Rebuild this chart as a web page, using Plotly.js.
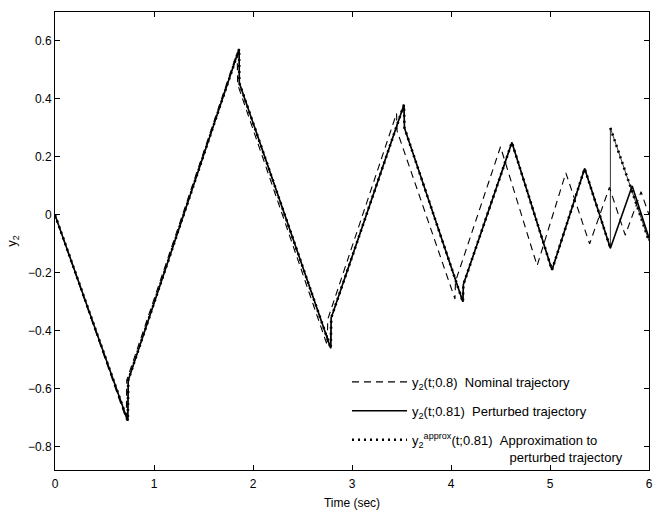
<!DOCTYPE html>
<html>
<head>
<meta charset="utf-8">
<script src="https://cdn.plot.ly/plotly-3.0.1.min.js"></script>
<style>html,body{margin:0;padding:0;background:#fff;}</style>
</head>
<body>
<div id="chart" style="width:653px;height:510px;"></div>
<script>
// Nominal trajectory y2(t;0.8)
const tNominal = [0, 0.72, 0.725, 1.84, 1.845, 2.75, 2.755, 3.45, 3.455, 4.04, 4.045, 4.50, 4.87, 5.16, 5.40, 5.60, 5.76, 5.92, 6.0];
const yNominal = [0, -0.705, -0.57, 0.56, 0.45, -0.45, -0.36, 0.35, 0.29, -0.29, -0.23, 0.235, -0.175, 0.145, -0.10, 0.095, -0.07, 0.08, 0.0];

// Perturbed trajectory y2(t;0.81)
const tPerturbed = [0, 0.735, 0.74, 1.86, 1.862, 2.785, 2.79, 3.525, 3.53, 4.12, 4.125, 4.615, 5.02, 5.35, 5.61, 5.83, 6.0];
const yPerturbed = [0, -0.71, -0.57, 0.572, 0.455, -0.46, -0.355, 0.38, 0.30, -0.30, -0.24, 0.25, -0.19, 0.16, -0.115, 0.10, -0.08];

// Approximation to perturbed trajectory
const tApprox = [0, 0.735, 0.74, 1.86, 1.862, 2.785, 2.79, 3.525, 3.53, 4.12, 4.125, 4.615, 5.02, 5.35, 5.61, 5.61, 6.0];
const yApprox = [0, -0.71, -0.57, 0.572, 0.455, -0.46, -0.355, 0.38, 0.30, -0.30, -0.24, 0.25, -0.19, 0.16, -0.115, 0.30, -0.09];

// Axis ticks
const xTickVals = [0, 1, 2, 3, 4, 5, 6];
const yTickVals = [-0.8, -0.6, -0.4, -0.2, 0, 0.2, 0.4, 0.6];
const yTickText = ['\u22120.8', '\u22120.6', '\u22120.4', '\u22120.2', '0', '0.2', '0.4', '0.6'];

// Legend labels
const NB = '\u00a0';
const labelNominal = 'y<sub>2</sub>(t;0.8)' + NB + NB + 'Nominal trajectory';
const labelPerturbed = 'y<sub>2</sub>(t;0.81)' + NB + NB + 'Perturbed trajectory';
const labelApprox = 'y<sub>2</sub><sup>approx</sup>(t;0.81)' + NB + NB + 'Approximation to<br>' + NB.repeat(27) + 'perturbed trajectory';

const FONT = 'Liberation Sans, Arial, Helvetica, sans-serif';

// dotted overlay breaks at the vertical jump (thin line only there)
const jumpIdx = 15;
const tApproxDots = tApprox.slice(0, jumpIdx).concat([null], tApprox.slice(jumpIdx));
const yApproxDots = yApprox.slice(0, jumpIdx).concat([null], yApprox.slice(jumpIdx));

const traces = [
  {x: tNominal, y: yNominal, mode: 'lines', name: labelNominal, legendgroup: 'g1',
   line: {color: '#000', width: 1.1, dash: '7px,5px'}},
  {x: tPerturbed, y: yPerturbed, mode: 'lines', name: labelPerturbed, legendgroup: 'g2',
   line: {color: '#000', width: 1.6}},
  {x: tApprox, y: yApprox, mode: 'lines', showlegend: false, hoverinfo: 'skip',
   line: {color: '#000', width: 0.8}},
  {x: tApproxDots, y: yApproxDots, mode: 'lines', name: labelApprox, legendgroup: 'g3',
   connectgaps: false,
   line: {color: '#000', width: 2.6, dash: '2px,4px'}}
];

const layout = {
  width: 653, height: 510,
  margin: {l: 55, r: 4, t: 12, b: 40},
  paper_bgcolor: '#fff', plot_bgcolor: '#fff',
  font: {family: FONT, size: 12, color: '#000'},
  showlegend: true,
  legend: {
    x: 0.4916, xanchor: 'left', y: 0.225, yanchor: 'top',
    bgcolor: 'rgba(0,0,0,0)', borderwidth: 0,
    font: {family: FONT, size: 13, color: '#000'},
    itemwidth: 55, valign: 'top', tracegroupgap: 9, traceorder: 'grouped'
  },
  xaxis: {
    range: [0, 6], tickvals: xTickVals, ticks: 'inside', ticklen: 5, tickcolor: '#000',
    showline: true, linecolor: '#000', linewidth: 1, mirror: 'ticks',
    showgrid: false, zeroline: false, ticklabelstandoff: 3,
    tickfont: {family: FONT, size: 12, color: '#000'},
    title: {text: 'Time (sec)', font: {family: FONT, size: 12, color: '#000'}, standoff: 8}
  },
  yaxis: {
    range: [-0.88, 0.7], tickvals: yTickVals, ticktext: yTickText, ticks: 'inside', ticklen: 5, tickcolor: '#000',
    showline: true, linecolor: '#000', linewidth: 1, mirror: 'ticks',
    showgrid: false, zeroline: false,
    tickfont: {family: FONT, size: 12, color: '#000'},
    title: {text: 'y<sub>2</sub>', font: {family: FONT, size: 13, color: '#000'}, standoff: 8}
  }
};

Plotly.newPlot('chart', traces, layout, {staticPlot: true, displayModeBar: false});
</script>
</body>
</html>
